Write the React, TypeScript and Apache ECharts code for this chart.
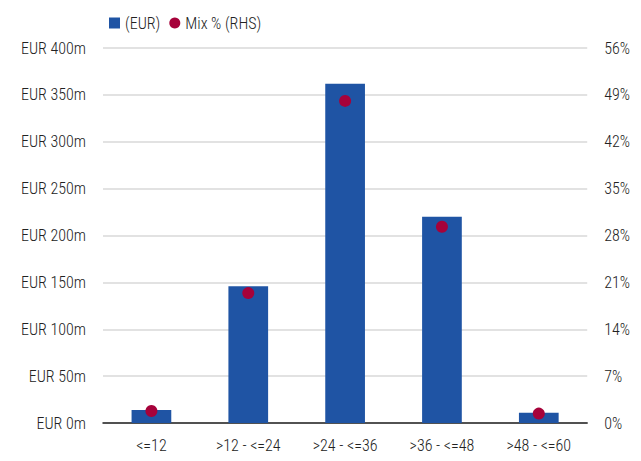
import React, { useEffect, useRef } from "react";
import * as echarts from "echarts";

const categories = ["<=12", ">12 - <=24", ">24 - <=36", ">36 - <=48", ">48 - <=60"];
const amountsEURm = [14, 146, 362, 220, 11];
const mixPct = [1.8, 19.4, 48.1, 29.3, 1.4];

const FONT = "'Roboto Condensed', Roboto, sans-serif";
const FS = 16;
const FW = 300;
const TXT = "#222";

export default function App() {
  const ref = useRef<HTMLDivElement>(null);
  useEffect(() => {
    if (!ref.current) return;
    const chart = echarts.init(ref.current, undefined, { renderer: "svg" });
    const label = { fontFamily: FONT, fontSize: FS, fontWeight: FW, color: TXT };
    chart.setOption({
      animation: false,
      textStyle: label,
      legend: {
        left: 96,
        top: 2,
        itemWidth: 11,
        itemHeight: 11,
        itemGap: 9,
        textStyle: label,
        data: [
          { name: "(EUR)", icon: "rect" },
          { name: "Mix % (RHS)", icon: "circle" },
        ],
      },
      grid: { left: 95, right: 45, top: 40, bottom: 27, containLabel: false },
      xAxis: {
        type: "category",
        data: categories,
        axisLine: { lineStyle: { color: "#222", width: 1.5 } },
        axisTick: { show: false },
        axisLabel: { ...label, margin: 14 },
      },
      yAxis: [
        {
          type: "value",
          min: 0,
          max: 400,
          interval: 50,
          axisLine: { show: false },
          axisTick: { show: false },
          splitLine: { lineStyle: { color: "#d9d9d9", width: 1.5 } },
          axisLabel: { ...label, margin: 17, formatter: (v: number) => `EUR ${v}m` },
        },
        {
          type: "value",
          min: 0,
          max: 56,
          interval: 7,
          position: "right",
          axisLine: { show: false },
          axisTick: { show: false },
          splitLine: { show: false },
          axisLabel: { ...label, margin: 17, formatter: (v: number) => `${v}%` },
        },
      ],
      series: [
        {
          name: "(EUR)",
          type: "bar",
          data: amountsEURm,
          barWidth: "41%",
          itemStyle: { color: "#1f54a4" },
          yAxisIndex: 0,
        },
        {
          name: "Mix % (RHS)",
          type: "scatter",
          data: mixPct,
          yAxisIndex: 1,
          symbol: "circle",
          symbolSize: 12,
          itemStyle: { color: "#a6023a", opacity: 1 },
          z: 3,
        },
      ],
    });
    return () => chart.dispose();
  }, []);
  return <div ref={ref} style={{ width: 625, height: 445 }} />;
}
